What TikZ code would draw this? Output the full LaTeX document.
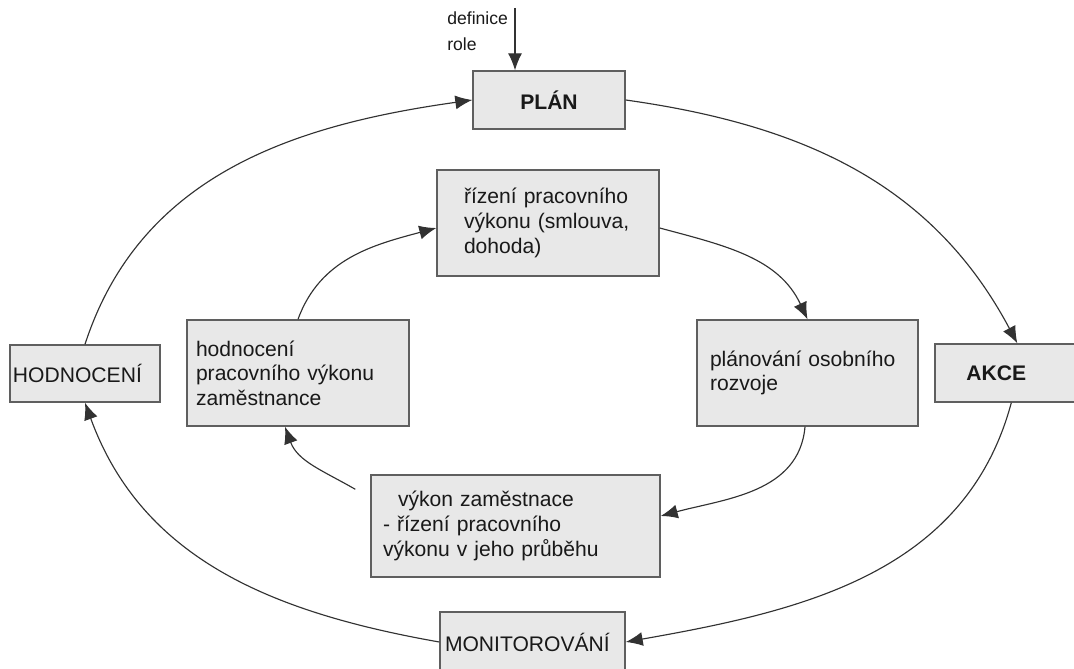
\documentclass[tikz,border=0pt]{standalone}
\usepackage{fontspec}
\setmainfont{Liberation Sans}
\usetikzlibrary{arrows.meta, positioning, calc}
\definecolor{boxfill}{RGB}{232,232,232}
\definecolor{boxline}{RGB}{95,95,95}
\definecolor{linecol}{RGB}{50,50,50}
\definecolor{textcol}{RGB}{25,25,25}

\begin{document}
\begin{tikzpicture}[
    font=\fontsize{12}{14}\selectfont,
    box/.style={rectangle, draw=boxline, fill=boxfill, line width=0.8pt, text=textcol, align=left, inner ysep=2pt},
    flow/.style={-{Latex[length=3.4mm, width=2.8mm]}, draw=linecol, line width=0.65pt}
]
    \useasboundingbox (0,0) rectangle (21.48,13.36);

    \node[box, minimum width=3.04cm, minimum height=1.16cm, align=center, font=\fontsize{12}{14}\selectfont\bfseries] (plan) at (10.98,11.36) {PLÁN};
    \node[text=textcol, align=left, anchor=west, inner sep=0pt, font=\fontsize{10}{14.5}\selectfont] (defrole) at (8.94,12.74) {definice\\role};
    \coordinate (deftop) at (10.30,13.20);

    \node[box, inner xsep=0.54cm, text width=3.36cm, minimum height=2.12cm] (rizeni) at (10.96,8.90) {řízení pracovního\\výkonu (smlouva,\\dohoda)};
    \node[box, inner xsep=0.18cm, text width=4.08cm, minimum height=2.12cm] (hodvykon) at (5.96,5.90) {hodnocení\\pracovního výkonu\\zaměstnance};
    \node[box, inner xsep=0.26cm, text width=3.90cm, minimum height=2.12cm] (rozvoj) at (16.15,5.90) {plánování osobního\\rozvoje};
    \node[box, inner xsep=0.24cm, text width=5.30cm, minimum height=2.04cm] (vykon) at (10.31,2.84) {\hspace*{0.3cm}výkon zaměstnace\\- řízení pracovního\\výkonu v jeho průběhu};

    \node[box, inner xsep=0.06cm, text width=2.88cm, minimum height=1.14cm] (hodnoceni) at (1.70,5.89) {HODNOCENÍ};
    \node[box, minimum width=2.9cm, minimum height=1.16cm, align=center, font=\fontsize{12}{14}\selectfont\bfseries] (akce) at (20.15,5.90) {AKCE\hspace*{0.45cm}};
    \node[box, inner xsep=0.1cm, text width=3.5cm, minimum height=1.2cm] (monitor) at (10.65,0.52) {MONITOROVÁNÍ};

    \draw[flow] (deftop) -- ([xshift=-0.68cm]plan.north);

    \draw[flow] (plan.east) to[out=-8, in=118] ([xshift=1.66cm]akce.north west);
    \draw[flow] ([xshift=1.54cm]akce.south west) to[out=-105, in=10] (monitor.east);
    \draw[flow] (monitor.west) to[out=170, in=-70] (hodnoceni.south);
    \draw[flow] (hodnoceni.north) to[out=72, in=188] (plan.west);

    \draw[flow] ([yshift=-0.1cm]rizeni.east) to[out=-15, in=115] (rozvoj.north);
    \draw[flow] ([xshift=-0.05cm]rozvoj.south) to[out=-95, in=15] ([yshift=0.2cm]vykon.east);
    \draw[flow] ([xshift=-0.3cm, yshift=-0.3cm]vykon.north west) to[out=150, in=-70] ([xshift=-0.26cm]hodvykon.south);
    \draw[flow] (hodvykon.north) to[out=70, in=195] ([yshift=-0.1cm]rizeni.west);
\end{tikzpicture}
\end{document}
